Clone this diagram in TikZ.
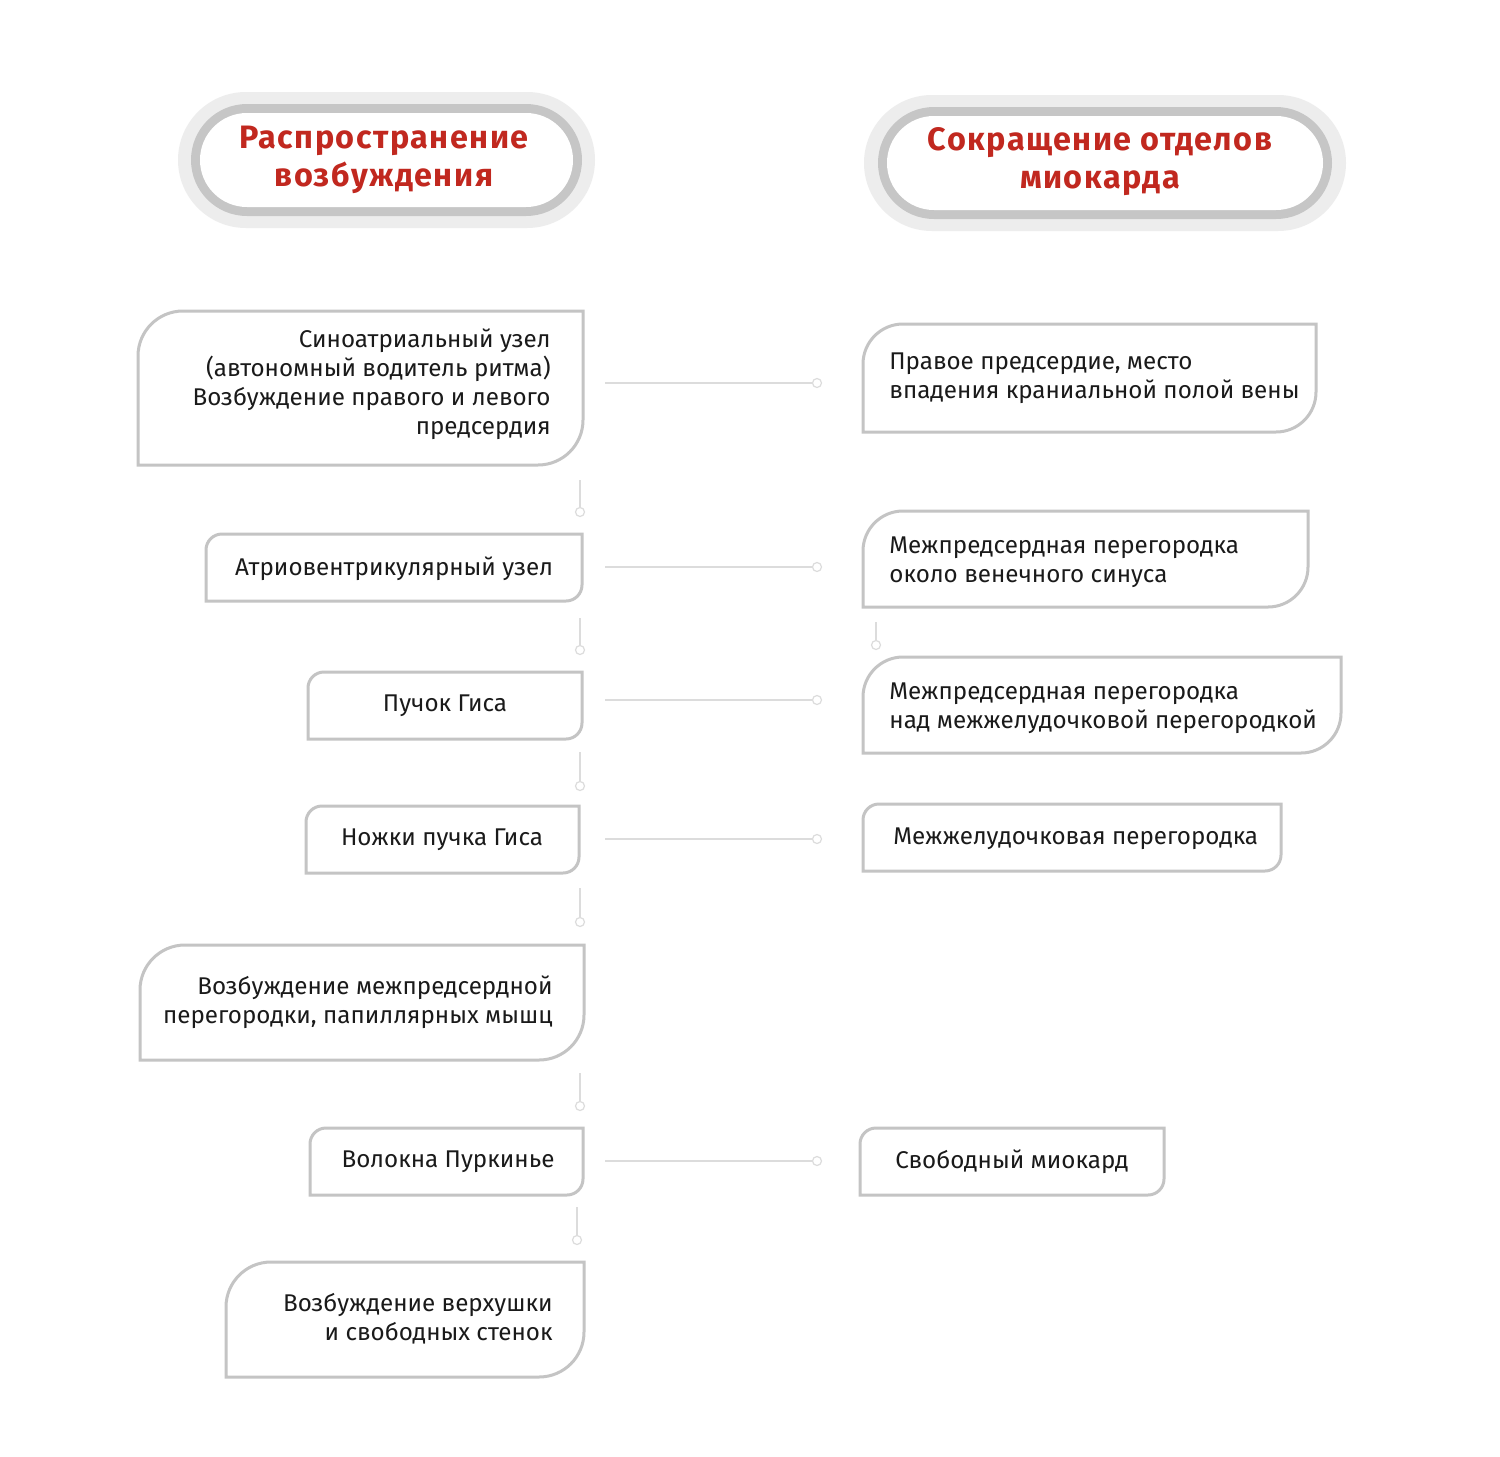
\documentclass[tikz,border=0pt]{standalone}
\usepackage{fontspec}
\setmainfont{Fira Sans}
\newfontfamily\headfont[LetterSpace=4.5]{Fira Sans}
\definecolor{boxgray}{HTML}{C4C4C4}
\definecolor{linegray}{HTML}{DCDCDC}
\definecolor{outergray}{HTML}{EDEDED}
\definecolor{ringgray}{HTML}{C6C6C6}
\definecolor{hred}{HTML}{C1281F}
\definecolor{txt}{HTML}{1A1A1A}
\tikzset{
  txtnode/.style={inner sep=0pt, text=txt, font=\fontsize{12.1}{14.5}\selectfont},
  headtxt/.style={inner sep=0pt, text=hred, align=center, font=\headfont\fontsize{16.2}{19}\bfseries\selectfont},
  boxline/.style={draw=boxgray, line width=1.5pt, fill=white},
  conn/.style={draw=linegray, line width=0.8pt},
  dotc/.style={circle, draw=linegray, line width=0.6pt, fill=white, minimum size=4.5pt, inner sep=0pt},
  vconn/.style={draw=linegray, line width=0.6pt},
}
% box with rounded top-left and bottom-right corners: name, x1, y1 (top), x2, y2 (bottom), r
\newcommand{\leafbox}[6]{%
  \coordinate (#1-nw) at (#2,#3);
  \coordinate (#1-se) at (#4,#5);
  \draw[boxline] (#2,#5) -- (#2,#3+#6) arc[start angle=180,end angle=90,x radius=#6,y radius=-#6]
    -- (#4,#3) -- (#4,#5-#6) arc[start angle=0,end angle=-90,x radius=#6,y radius=-#6] -- cycle;
}
\newcommand{\pill}[9]{%
  % name, outer x1 y1 x2 y2, ring x1 y1 x2 y2
  \fill[outergray, rounded corners=34pt] (#2,#3) rectangle (#4,#5);
  \fill[ringgray, rounded corners=28pt] (#6,#7) rectangle (#8,#9);
  \fill[white, rounded corners=23.5pt] (#6+9,#7+9) rectangle (#8-9,#9-9);
}
\begin{document}
\begin{tikzpicture}[x=0.5pt, y=-0.5pt]
\useasboundingbox[fill=white] (0,0) rectangle (1500,1457);

% headers
\pill{hl}{178}{92}{595}{228}{191}{104}{582}{216}
\node[headtxt] (hleft) at (384,160) {Распространение\\возбуждения};
\pill{hr}{864}{95}{1346}{231}{878}{107}{1332}{219}
\node[headtxt] (hright) at (1100,162) {Сокращение отделов\\миокарда};

% left boxes
\leafbox{L1}{138}{311}{583}{465}{45}
\node[txtnode, align=right, anchor=east] (t1) at (551,384) {Синоатриальный узел\\(автономный водитель ритма)\\Возбуждение правого и левого\\предсердия};
\leafbox{L2}{206}{534}{582}{601}{16}
\node[txtnode] (t2) at (394,569) {Атриовентрикулярный узел};
\leafbox{L3}{308}{672}{582}{739}{16}
\node[txtnode] (t3) at (445,706) {Пучок Гиса};
\leafbox{L4}{306}{806}{579}{873}{16}
\node[txtnode] (t4) at (442,840) {Ножки пучка Гиса};
\leafbox{L5}{140}{945}{584}{1060}{45}
\node[txtnode, align=right, anchor=east] (t5) at (553,1002) {Возбуждение межпредсердной\\перегородки, папиллярных мышц};
\leafbox{L6}{310}{1128}{583}{1195}{16}
\node[txtnode] (t6) at (448,1162) {Волокна Пуркинье};
\leafbox{L7}{226}{1262}{584}{1377}{45}
\node[txtnode, align=right, anchor=east] (t7) at (553,1319) {Возбуждение верхушки\\и свободных стенок};

% right boxes
\leafbox{R1}{863}{324}{1316}{432}{40}
\node[txtnode, align=left, anchor=west] (r1) at (889,378) {Правое предсердие, место\\впадения краниальной полой вены};
\leafbox{R2}{863}{511}{1308}{607}{40}
\node[txtnode, align=left, anchor=west] (r2) at (889,562) {Межпредсердная перегородка\\около венечного синуса};
\leafbox{R3}{863}{657}{1341}{753}{40}
\node[txtnode, align=left, anchor=west] (r3) at (889,708) {Межпредсердная перегородка\\над межжелудочковой перегородкой};
\leafbox{R4}{863}{804}{1281}{871}{16}
\node[txtnode, anchor=west] (r4) at (893,839) {Межжелудочковая перегородка};
\leafbox{R5}{860}{1128}{1164}{1195}{16}
\node[txtnode, anchor=west] (r5) at (895,1162) {Свободный миокард};

% horizontal connectors
\foreach \n/\yy in {h1/383, h2/567, h3/700, h4/839, h5/1161}{
  \coordinate (\n-s) at (605,\yy);
  \node[dotc] (\n-c) at (817,\yy) {};
  \draw[conn] (\n-s) -- (\n-c.west);
}

% vertical connectors
\foreach \n/\xx/\ya/\yb in {v1/580/480/512, v2/580/618/650, v3/580/752/786, v4/580/888/922, v5/580/1073/1106, v6/577/1207/1240, v7/876/622/645}{
  \coordinate (\n-s) at (\xx,\ya);
  \node[dotc] (\n-c) at (\xx,\yb) {};
  \draw[vconn] (\n-s) -- (\n-c.north);
}
\end{tikzpicture}
\end{document}
